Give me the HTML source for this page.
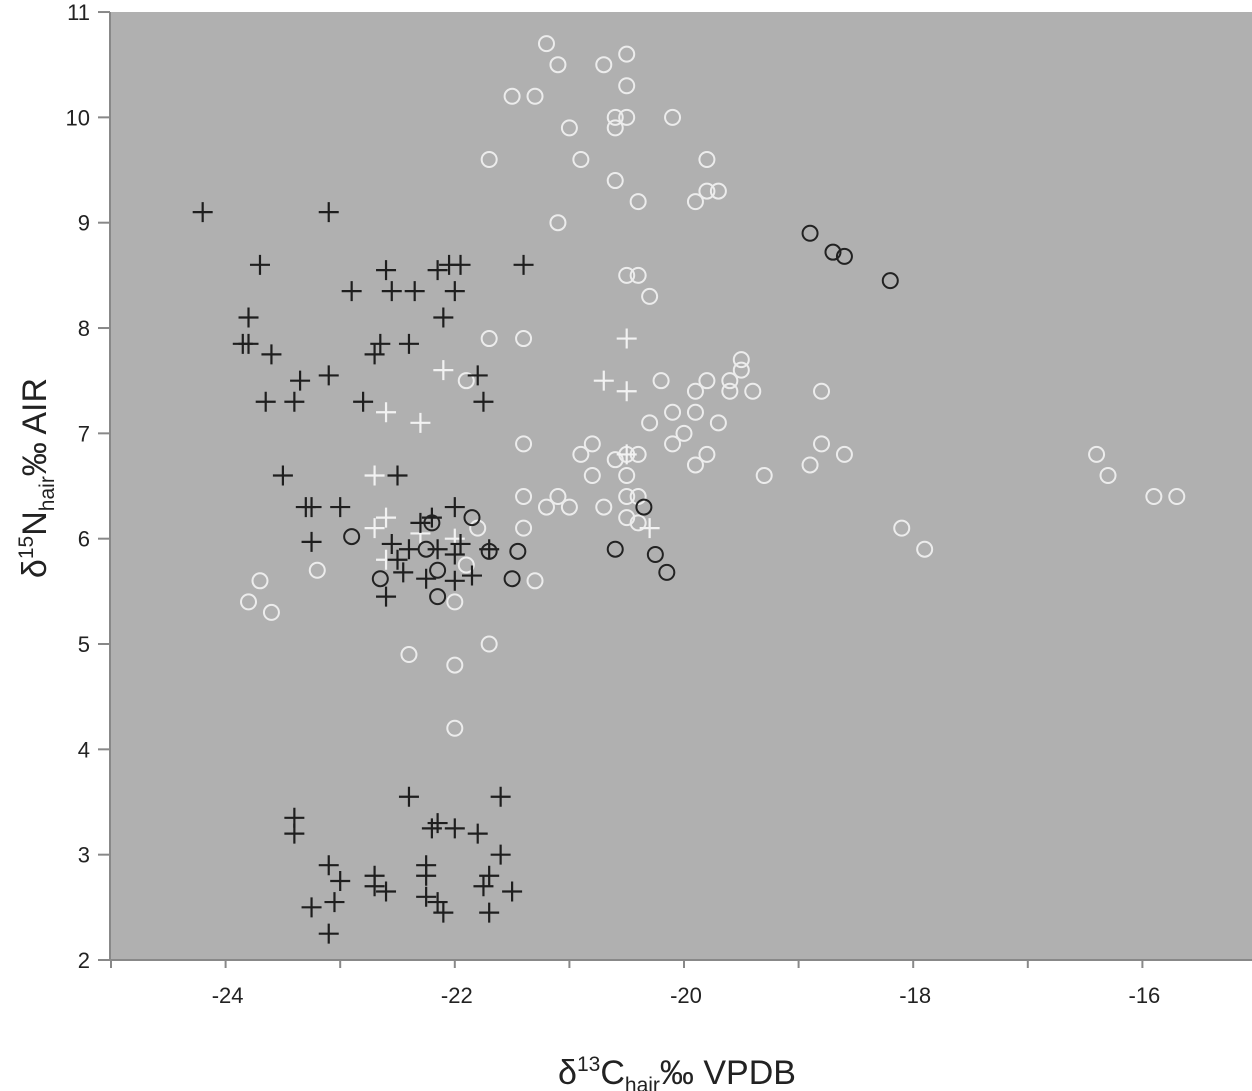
<!DOCTYPE html>
<html><head><meta charset="utf-8"><style>
body{margin:0;background:#fff;width:1252px;height:1091px;overflow:hidden;font-family:"Liberation Sans",sans-serif}
svg{display:block}
</style></head><body>
<svg id="chart" width="1252" height="1091" xmlns="http://www.w3.org/2000/svg">
<rect x="110" y="12" width="1142" height="948" fill="#b0b0b0"/>
<g id="axes"></g>
<g id="marks"></g>
<text transform="translate(46,478) rotate(-90)" text-anchor="middle" font-size="34" fill="#222">δ<tspan font-size="21" dy="-13">15</tspan><tspan dy="13">N</tspan><tspan font-size="21" dy="8">hair</tspan><tspan dy="-8">‰ AIR</tspan></text>
<text x="677" y="1084" text-anchor="middle" font-size="34" fill="#222">δ<tspan font-size="21" dy="-13">13</tspan><tspan dy="13">C</tspan><tspan font-size="21" dy="8">hair</tspan><tspan dy="-8">‰ VPDB</tspan></text>
</svg>
<script>
const xTicks=[-24,-22,-20,-18,-16];
const yTicks=[2,3,4,5,6,7,8,9,10,11];
const blackCross=[[-24.2,9.1],[-23.1,9.1],[-23.7,8.6],[-22.6,8.55],[-22.15,8.55],[-22.05,8.6],[-21.95,8.6],[-21.4,8.6],[-22.9,8.35],[-22.55,8.35],[-22.35,8.35],[-22.0,8.35],[-23.8,8.1],[-22.1,8.1],[-23.85,7.85],[-23.8,7.85],[-23.6,7.75],[-22.65,7.85],[-22.7,7.75],[-22.4,7.85],[-23.35,7.5],[-23.1,7.55],[-21.8,7.55],[-23.65,7.3],[-23.4,7.3],[-22.8,7.3],[-21.75,7.3],[-23.5,6.6],[-22.5,6.6],[-23.3,6.3],[-23.25,6.3],[-23.0,6.3],[-22.0,6.3],[-22.2,6.2],[-23.25,5.97],[-22.55,5.95],[-22.4,5.9],[-22.3,6.15],[-22.15,5.9],[-21.95,5.95],[-22.0,5.85],[-21.7,5.9],[-22.5,5.8],[-22.45,5.68],[-22.25,5.62],[-22.0,5.6],[-21.85,5.65],[-22.6,5.45],[-23.4,3.35],[-23.4,3.2],[-22.4,3.55],[-21.6,3.55],[-22.15,3.3],[-22.2,3.25],[-22.0,3.25],[-21.8,3.2],[-21.6,3.0],[-23.1,2.9],[-22.25,2.9],[-22.7,2.8],[-22.25,2.8],[-21.7,2.8],[-23.0,2.75],[-22.7,2.7],[-22.6,2.65],[-21.75,2.7],[-21.5,2.65],[-22.25,2.6],[-22.15,2.55],[-23.25,2.5],[-23.05,2.55],[-22.1,2.45],[-21.7,2.45],[-23.1,2.25]];
const whiteCross=[[-20.5,7.9],[-20.7,7.5],[-20.5,7.4],[-22.1,7.6],[-22.6,7.2],[-22.3,7.1],[-22.7,6.6],[-20.5,6.8],[-22.6,6.2],[-22.7,6.1],[-22.3,6.05],[-22.0,6.0],[-22.6,5.8],[-20.3,6.1]];
const blackCircle=[[-18.9,8.9],[-18.7,8.72],[-18.6,8.68],[-18.2,8.45],[-22.9,6.02],[-22.2,6.15],[-21.85,6.2],[-22.65,5.62],[-22.25,5.9],[-22.15,5.7],[-22.15,5.45],[-21.7,5.88],[-21.45,5.88],[-21.5,5.62],[-20.6,5.9],[-20.35,6.3],[-20.25,5.85],[-20.15,5.68]];
const whiteCircle=[[-21.2,10.7],[-21.1,10.5],[-20.5,10.6],[-20.7,10.5],[-21.5,10.2],[-21.3,10.2],[-20.5,10.3],[-20.6,10.0],[-20.5,10.0],[-20.6,9.9],[-21.0,9.9],[-20.1,10.0],[-21.7,9.6],[-20.9,9.6],[-19.8,9.6],[-20.6,9.4],[-19.8,9.3],[-19.7,9.3],[-19.9,9.2],[-20.4,9.2],[-21.1,9.0],[-20.5,8.5],[-20.4,8.5],[-20.3,8.3],[-21.7,7.9],[-21.4,7.9],[-21.9,7.5],[-20.2,7.5],[-19.5,7.7],[-19.5,7.6],[-19.8,7.5],[-19.6,7.5],[-19.9,7.4],[-19.6,7.4],[-19.4,7.4],[-18.8,7.4],[-20.3,7.1],[-20.1,7.2],[-19.9,7.2],[-19.7,7.1],[-20.0,7.0],[-21.4,6.9],[-20.8,6.9],[-20.1,6.9],[-18.8,6.9],[-20.9,6.8],[-20.6,6.75],[-20.5,6.8],[-20.4,6.8],[-19.8,6.8],[-18.6,6.8],[-19.9,6.7],[-18.9,6.7],[-20.8,6.6],[-20.5,6.6],[-19.3,6.6],[-16.4,6.8],[-16.3,6.6],[-15.9,6.4],[-15.7,6.4],[-21.4,6.4],[-21.1,6.4],[-20.5,6.4],[-20.4,6.4],[-21.2,6.3],[-21.0,6.3],[-20.7,6.3],[-20.5,6.2],[-20.4,6.15],[-21.4,6.1],[-21.8,6.1],[-18.1,6.1],[-17.9,5.9],[-21.9,5.75],[-23.2,5.7],[-23.7,5.6],[-21.3,5.6],[-23.8,5.4],[-23.6,5.3],[-22.0,5.4],[-22.4,4.9],[-21.7,5.0],[-22.0,4.8],[-22.0,4.2]];

const NS='http://www.w3.org/2000/svg';
const X=v=>111+(v+25)*114.6;
const Y=v=>960-(v-2)*105.33;
function mk(tag,attrs,parent){const e=document.createElementNS(NS,tag);for(const k in attrs)e.setAttribute(k,attrs[k]);parent.appendChild(e);return e;}
const axes=document.getElementById('axes'),marks=document.getElementById('marks');
let l=mk('line',{x1:110,y1:960,x2:1252,y2:960,stroke:'#888','stroke-width':2},axes);


l=mk('line',{x1:110,y1:12,x2:110,y2:960,stroke:'#888','stroke-width':2},axes);


for(let v=-25;v<=-15;v+=1){const t=mk('line',{x1:X(v),y1:960,x2:X(v),y2:968,stroke:'#888','stroke-width':2},axes);

}
xTicks.forEach(v=>{const t=mk('text',{x:X(v)+2,y:1003,'text-anchor':'middle','font-size':22,fill:'#222'},axes);t.textContent=String(v);

});
yTicks.forEach(v=>{const t=mk('line',{x1:98,y1:Y(v),x2:110,y2:Y(v),stroke:'#888','stroke-width':2},axes);


const s=mk('text',{x:90,y:Y(v)+8,'text-anchor':'end','font-size':22,fill:'#222'},axes);s.textContent=v;

});
function cross(d,col,name){d.forEach(p=>{const x=X(p[0]),y=Y(p[1]);const e=mk('path',{d:`M${x-10},${y}H${x+10}M${x},${y-10}V${y+10}`,stroke:col,'stroke-width':2.2,fill:'none'},marks);

});}
function circ(d,col,name){d.forEach(p=>{const e=mk('circle',{cx:X(p[0]),cy:Y(p[1]),r:7.5,stroke:col,'stroke-width':2,fill:'none'},marks);

});}
circ(whiteCircle,'#ececec','white-circle-point');
cross(whiteCross,'#f2f2f2','white-cross-point');
cross(blackCross,'#1e1e1e','black-cross-point');
circ(blackCircle,'#222','black-circle-point');
</script>
</body></html>
